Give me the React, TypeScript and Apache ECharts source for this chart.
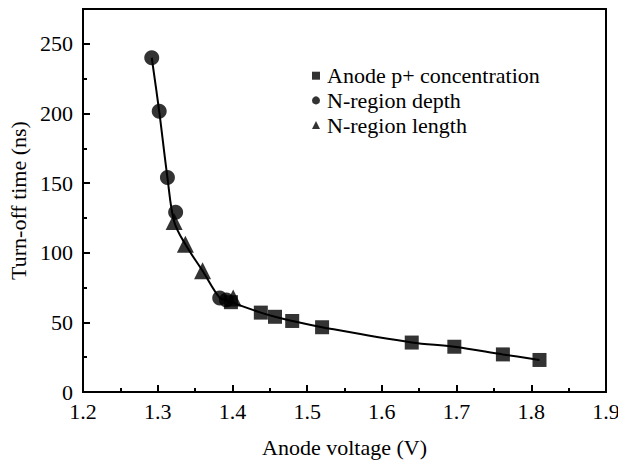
import React, { useEffect, useRef } from "react";
import * as echarts from "echarts";

const xTicks = [1.2, 1.3, 1.4, 1.5, 1.6, 1.7, 1.8, 1.9];
const yTicks = [0, 50, 100, 150, 200, 250];

const anodeConc: [number, number][] = [
  [1.398, 64.5], [1.438, 57], [1.457, 54], [1.48, 51], [1.52, 46.5],
  [1.64, 35.5], [1.697, 32.5], [1.762, 27], [1.811, 23],
];
const nDepth: [number, number][] = [
  [1.292, 240], [1.302, 201.5], [1.313, 154], [1.324, 129], [1.383, 67.5], [1.392, 66],
];
const nLength: [number, number][] = [
  [1.322, 122.5], [1.337, 106], [1.36, 87], [1.401, 67.5],
];

const seriesNames = ["Anode p+ concentration", "N-region depth", "N-region length"];

function fitCurve(): [number, number][] {
  const all = [...anodeConc, ...nDepth, ...nLength].sort((a, b) => a[0] - b[0]);
  const out: [number, number][] = [];
  for (const p of all) {
    if (out.length === 0 || p[1] <= out[out.length - 1][1]) out.push(p);
  }
  return out;
}

const FONT = "Liberation Serif";

export default function App() {
  const ref = useRef<HTMLDivElement>(null);
  useEffect(() => {
    if (!ref.current) return;
    const chart = echarts.init(ref.current, null, { renderer: "svg" });
    const labelStyle = { color: "#000", fontFamily: FONT, fontSize: 22 };
    chart.setOption({
      animation: false,
      backgroundColor: "#fff",
      grid: {
        left: 83, right: 12, top: 9, bottom: 71,
        show: true, borderColor: "#000", borderWidth: 2,
        containLabel: false, outerBoundsMode: "none",
      },
      legend: {
        orient: "vertical",
        left: 307,
        top: 59.7,
        itemWidth: 8,
        itemHeight: 8,
        itemGap: 2.7,
        data: seriesNames,
        textStyle: { ...labelStyle, lineHeight: 22, padding: [0, 0, 0, 2] },
      },
      xAxis: {
        type: "value",
        min: xTicks[0],
        max: xTicks[xTicks.length - 1],
        interval: 0.1,
        name: "Anode voltage (V)",
        nameLocation: "middle",
        nameGap: 44.5,
        nameTextStyle: labelStyle,
        axisLine: { lineStyle: { color: "#000", width: 2 } },
        axisTick: { inside: true, length: 7, lineStyle: { color: "#000", width: 2 } },
        minorTick: { show: true, splitNumber: 2, length: 4, lineStyle: { color: "#000", width: 2 } },
        splitLine: { show: false },
        axisLabel: { ...labelStyle, margin: 8, formatter: (v: number) => v.toFixed(1) },
      },
      yAxis: {
        type: "value",
        min: yTicks[0],
        max: 275,
        interval: 50,
        name: "Turn-off time (ns)",
        nameLocation: "middle",
        nameGap: 51.5,
        nameTextStyle: labelStyle,
        axisLine: { lineStyle: { color: "#000", width: 2 } },
        axisTick: { inside: true, length: 7, lineStyle: { color: "#000", width: 2 } },
        minorTick: { show: true, splitNumber: 2, length: 4, lineStyle: { color: "#000", width: 2 } },
        splitLine: { show: false },
        axisLabel: {
          ...labelStyle,
          margin: 10,
          formatter: (v: number) => (yTicks.includes(v) ? String(v) : ""),
        },
      },
      series: [
        {
          type: "line",
          data: fitCurve(),
          smooth: 0.35,
          showSymbol: false,
          symbol: "none",
          lineStyle: { color: "#000", width: 2 },
          silent: true,
          z: 1,
        },
        {
          name: seriesNames[0], type: "scatter", data: anodeConc,
          symbol: "rect", symbolSize: 14, itemStyle: { color: "#000" }, z: 3,
        },
        {
          name: seriesNames[1], type: "scatter", data: nDepth,
          symbol: "circle", symbolSize: 15, itemStyle: { color: "#000" }, z: 3,
        },
        {
          name: seriesNames[2], type: "scatter", data: nLength,
          symbol: "triangle", symbolSize: 17, itemStyle: { color: "#000" }, z: 3,
        },
      ],
    });
    return () => chart.dispose();
  }, []);
  return <div ref={ref} style={{ width: 618, height: 463, position: "absolute", left: 0, top: 0 }} />;
}
